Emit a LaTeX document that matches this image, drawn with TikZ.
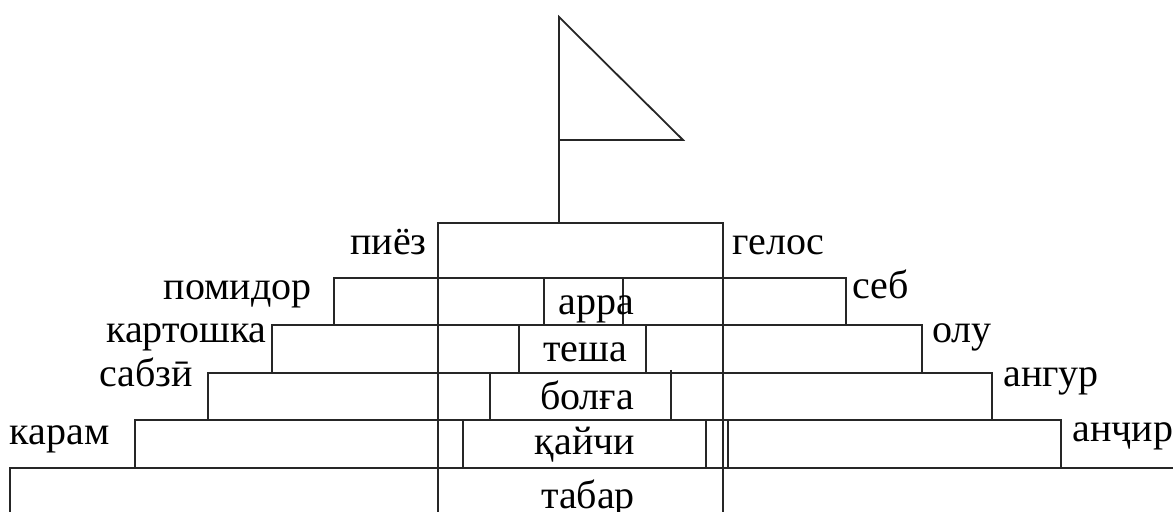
\documentclass[tikz,border=0pt]{standalone}
\usepackage{fontspec}
\setmainfont{Liberation Serif}
\begin{document}
\begin{tikzpicture}[x=0.5pt,y=-0.5pt,
  ln/.style={line width=0.9pt,draw=black!85},
  lbl/.style={inner sep=0pt,font=\fontsize{20}{22}\selectfont},
  lft/.style={lbl,anchor=base east},
  rgt/.style={lbl,anchor=base west},
  mid/.style={lbl,anchor=base}]
\clip (0,0) rectangle (1173,512);
% flag
\coordinate (poletop) at (559,17);
\coordinate (polebase) at (559,223);
\coordinate (flagtip) at (683,140);
\coordinate (flagfoot) at (559,140);
\draw[ln] (polebase) -- (poletop) -- (flagtip) -- (flagfoot);
% top box
\draw[ln] (438,223) rectangle (723,278);
% rows
\draw[ln] (334,278) rectangle (846,325);
\draw[ln] (272,325) rectangle (922,373);
\draw[ln] (208,373) rectangle (992,420);
\draw[ln] (135,420) rectangle (1061,468);
\draw[ln] (10,530) -- (10,468) -- (1190,468);
% central verticals
\draw[ln] (438,223) -- (438,530);
\draw[ln] (723,223) -- (723,530);
% inner verticals
\draw[ln] (544,278) -- (544,325);
\draw[ln] (623,278) -- (623,325);
\draw[ln] (519,325) -- (519,373);
\draw[ln] (646,325) -- (646,373);
\draw[ln] (490,373) -- (490,420);
\draw[ln] (671,370) -- (671,420);
\draw[ln] (463,420) -- (463,468);
\draw[ln] (706,420) -- (706,468);
\draw[ln] (728,420) -- (728,468);
% centre texts
\node[mid] (arra) at (596,315) {арра};
\node[mid] (tesha) at (585,362) {теша};
\node[mid] (bolga) at (587,410) {болға};
\node[mid] (kaychi) at (585,455) {қайчи};
\node[mid] (tabar) at (588,509) {табар};
% left labels
\node[lft] (piyoz) at (427,255) {пиёз};
\node[lft] (pomidor) at (312,300) {помидор};
\node[lft] (kartoshka) at (267,343) {картошка};
\node[lft] (sabzi) at (193,387) {сабзӣ};
\node[lft] (karam) at (110,445) {карам};
% right labels
\node[rgt] (gelos) at (732,255) {гелос};
\node[rgt] (seb) at (852,299) {себ};
\node[rgt] (olu) at (932,343) {олу};
\node[rgt] (angur) at (1003,387) {ангур};
\node[rgt] (anjir) at (1072,442) {анҷир};
\end{tikzpicture}
\end{document}
